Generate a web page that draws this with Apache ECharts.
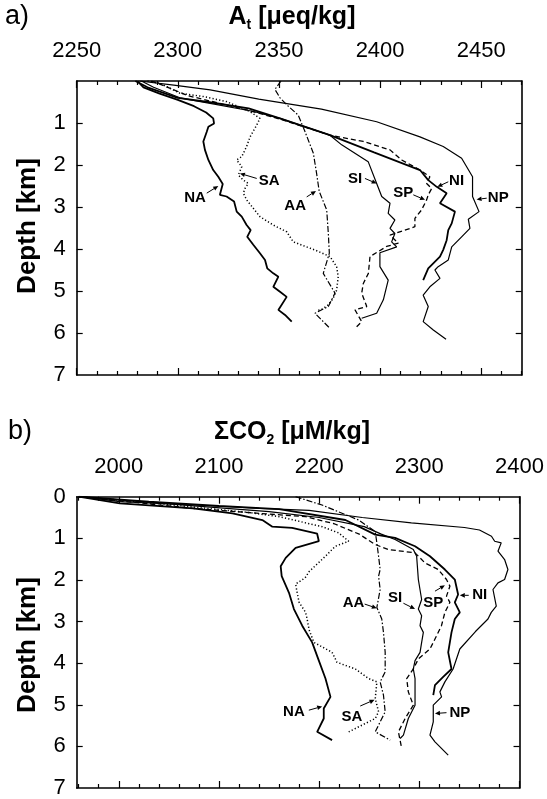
<!DOCTYPE html>
<html>
<head>
<meta charset="utf-8">
<script src="https://cdn.jsdelivr.net/npm/echarts@6/dist/echarts.min.js"></script>
<style>
html,body{margin:0;padding:0;background:#fff;}
#chart{width:547px;height:799px;}
</style>
</head>
<body>
<div id="chart"></div>
<script>
// ---------- tick labels ----------
const depthLabelsA = [1, 2, 3, 4, 5, 6, 7];
const depthLabelsB = [0, 1, 2, 3, 4, 5, 6, 7];
const atLabels = [2250, 2300, 2350, 2400, 2450];
const co2Labels = [2000, 2100, 2200, 2300, 2400];

// ---------- panel a: alkalinity [value, depth km] ----------
const atNA = [[2280,0],[2283,0.15],[2291,0.3],[2300,0.45],[2308,0.6],[2314,0.75],[2317.5,0.89],[2317.9,1.01],[2315.1,1.09],[2314.3,1.21],[2312.6,1.44],[2313.4,1.64],[2315.1,1.88],[2317.5,2.12],[2320,2.28],[2322.2,2.45],[2320.8,2.71],[2324.1,2.75],[2327.8,2.87],[2329.1,3.11],[2331.6,3.23],[2334,3.43],[2336,3.55],[2334.3,3.71],[2337.3,3.9],[2340.6,4.1],[2343.1,4.26],[2344.2,4.46],[2347.2,4.58],[2349.7,4.66],[2347.2,4.9],[2350.5,5.02],[2353.8,5.14],[2349.7,5.45],[2353,5.57],[2356.3,5.73]];
const atSA = [[2285,0],[2291,0.05],[2301,0.29],[2312.6,0.37],[2324.1,0.49],[2335.7,0.73],[2340.6,0.89],[2339,1.05],[2335.7,1.33],[2334,1.56],[2331.6,1.8],[2329.1,1.88],[2331.6,2.04],[2329.9,2.24],[2332.4,2.36],[2334.8,2.44],[2333.2,2.56],[2332.4,2.67],[2334,2.83],[2337.3,3.03],[2340.6,3.23],[2347.2,3.43],[2353.8,3.59],[2357.1,3.83],[2365.3,3.98],[2368.6,4.04],[2375.2,4.18],[2378.5,4.42],[2379.3,4.66],[2378.5,4.98],[2376.8,5.17],[2374.4,5.33],[2371.1,5.44],[2368.6,5.47]];
const atAA = [[2351,0],[2348,0.2],[2350.5,0.4],[2354.6,0.6],[2359.5,0.81],[2362.9,1.21],[2367,1.72],[2368.6,2.2],[2369.9,2.63],[2373.6,3.07],[2374.4,3.63],[2374.9,4.1],[2371.9,4.58],[2377.7,5.05],[2374.4,5.37],[2367.8,5.53],[2375.2,5.89]];
const atSI = [[2282,0],[2288,0.15],[2301,0.4],[2318,0.55],[2337,0.72],[2350.5,0.89],[2375.2,1.29],[2381,1.52],[2394.1,1.92],[2398.3,2.44],[2400.8,2.75],[2404.9,2.91],[2404,3.15],[2407.3,3.31],[2404.9,3.51],[2407.3,3.63],[2405.7,3.83],[2408.2,3.95],[2399.9,4.09],[2399.9,4.42],[2404,4.74],[2401.6,5.21],[2398.3,5.53],[2390.9,5.65]];
const atSP = [[2287,0],[2295,0.15],[2305,0.35],[2318,0.5],[2335,0.7],[2350,0.9],[2375.2,1.29],[2391.7,1.44],[2404.9,1.64],[2410.7,1.88],[2419.7,2.12],[2424.6,2.28],[2423,2.44],[2425.5,2.56],[2423.8,2.71],[2423,2.83],[2420.5,3.07],[2417.2,3.27],[2417.2,3.47],[2404.9,3.67],[2409,3.86],[2403.2,3.94],[2399.1,4.06],[2395,4.18],[2394.2,4.58],[2391.7,4.82],[2390.9,5.05],[2393.4,5.37],[2387.6,5.45],[2390.9,5.73],[2388.4,5.85]];
const atNI = [[2279,0],[2285,0.15],[2300,0.4],[2315,0.5],[2335,0.65],[2350.5,0.89],[2375.2,1.29],[2397,1.7],[2419.7,2.12],[2423.8,2.36],[2428,2.52],[2432.9,2.67],[2429.6,2.91],[2437,3.11],[2435.4,3.39],[2433.7,3.55],[2432.9,3.79],[2431.2,4.02],[2429.6,4.18],[2423.8,4.46],[2421.3,4.74]];
const atNP = [[2281,0],[2298,0.1],[2316,0.21],[2340,0.43],[2371,0.67],[2398.3,0.97],[2419.7,1.33],[2431.2,1.56],[2440.3,1.84],[2445.7,2.28],[2445.7,2.75],[2448.9,3.11],[2443.6,3.29],[2444.4,3.51],[2440.3,3.71],[2435.4,3.95],[2433.7,4.26],[2428.7,4.42],[2427.1,4.5],[2429.6,4.7],[2424.6,4.9],[2421.3,5.1],[2423.8,5.37],[2421.3,5.73],[2426.3,5.93],[2432.6,6.15]];

// ---------- panel b: total CO2 [value, depth km] ----------
const coNA = [[1960,0],[2001,0.16],[2074,0.28],[2113.5,0.4],[2143.3,0.56],[2153.3,0.72],[2173,0.75],[2198,0.89],[2199.7,1.07],[2176.5,1.23],[2166.6,1.47],[2161.6,1.67],[2162.6,1.91],[2169.9,2.31],[2174.8,2.7],[2183.1,3.1],[2193,3.5],[2199.7,3.94],[2206.3,4.37],[2211.3,4.81],[2204.6,5.09],[2204.6,5.33],[2198,5.65],[2212.9,5.85]];
const coSA = [[1960,0],[2020,0.12],[2075,0.25],[2130,0.38],[2160,0.48],[2203,0.72],[2219.5,0.87],[2229.5,1.07],[2216.2,1.19],[2206.3,1.43],[2190,1.8],[2186,1.95],[2176.5,2.1],[2178,2.3],[2180,2.54],[2186.5,2.78],[2188,2.94],[2190,3.2],[2194.7,3.5],[2212.9,3.74],[2217.8,3.98],[2236.1,4.14],[2249.3,4.37],[2257.6,4.45],[2256,4.85],[2259.3,5.17],[2256,5.33],[2242.7,5.49],[2229.5,5.65]];
const coAA = [[2176.5,0],[2202.9,0.2],[2239.4,0.56],[2256,0.84],[2257.6,1.11],[2259.3,1.43],[2260.9,1.75],[2259.3,1.91],[2260.9,2.23],[2257.6,2.66],[2262.5,2.94],[2264.2,3.26],[2265.9,3.74],[2265.9,4.21],[2260.9,4.45],[2264.2,4.77],[2265.9,5.17],[2260.9,5.41],[2256,5.65],[2270.9,5.85]];
const coSI = [[1960,0],[2075,0.22],[2150,0.36],[2200,0.5],[2245,0.72],[2262,0.9],[2275.8,1.03],[2294,1.27],[2297.3,1.43],[2299,1.99],[2302.3,2.47],[2299,2.7],[2302.3,2.86],[2300.7,3.1],[2304,3.26],[2302.3,3.5],[2300.7,3.74],[2295.7,3.94],[2294,4.14],[2295.7,4.37],[2295.7,5.01],[2289,5.33],[2284.1,5.73],[2280.8,5.81]];
const coSP = [[1960,0],[2074,0.28],[2140,0.4],[2186.5,0.48],[2215,0.65],[2240,0.9],[2256,1.15],[2269.2,1.27],[2295.7,1.35],[2305.6,1.59],[2318.9,1.75],[2327.1,1.99],[2330.5,2.15],[2327.1,2.39],[2330.5,2.54],[2325.5,2.78],[2322.1,3.1],[2315.6,3.42],[2310.6,3.66],[2299,3.9],[2294,4.14],[2287.4,4.37],[2289,4.69],[2294,5.01],[2285.8,5.33],[2279.1,5.65],[2282.4,6.05]];
const coNI = [[1960,0],[2030,0.12],[2100,0.22],[2160,0.3],[2226.2,0.56],[2256,0.91],[2275.8,0.99],[2295.7,1.19],[2310.6,1.43],[2325.5,1.75],[2335.4,1.99],[2338.7,2.35],[2335.4,2.54],[2340.4,2.78],[2335.4,2.94],[2332.1,3.26],[2328.8,3.74],[2332.1,4.14],[2323.8,4.33],[2315.6,4.53],[2313.9,4.77]];
const coNP = [[1962,0],[2001,0.12],[2074,0.2],[2140,0.28],[2190,0.33],[2243,0.5],[2292,0.63],[2345,0.74],[2360,0.8],[2372,0.95],[2375.2,1.07],[2381.7,1.11],[2378.5,1.31],[2385.1,1.51],[2388.4,1.75],[2385.1,1.99],[2378.5,2.07],[2373.5,2.23],[2376.8,2.63],[2371.8,2.78],[2368.5,2.94],[2356,3.24],[2340.4,3.66],[2333.7,4.14],[2325.5,4.45],[2320.5,4.69],[2322.2,4.81],[2313.9,5.01],[2313.9,5.41],[2310.6,5.73],[2315.6,5.89],[2328.8,6.21]];

// ---------- annotations (data coords: label, arrow tail, arrow head) ----------
const annA = [
  ['NA', [2308.5,2.79], [2314.3,2.67], [2320,2.5]],
  ['SA', [2345.2,2.38], [2339,2.32], [2330.7,2.2]],
  ['AA', [2358,2.98], [2363.7,2.76], [2368.3,2.62]],
  ['SI', [2387.6,2.32], [2392.5,2.32], [2398.3,2.44]],
  ['SP', [2411.5,2.67], [2416.4,2.71], [2422.2,2.83]],
  ['NI', [2437.8,2.37], [2433.7,2.40], [2428.3,2.52]],
  ['NP', [2458.4,2.79], [2452.7,2.79], [2447.7,2.82]]
];
const annB = [
  ['NA', [2174.8,5.17], [2189.7,5.13], [2203,5.04]],
  ['SA', [2232.7,5.29], [2241,5.03], [2255.3,4.88]],
  ['AA', [2234.4,2.56], [2245.4,2.58], [2257.6,2.68]],
  ['SI', [2275.8,2.42], [2284.1,2.56], [2295.7,2.70]],
  ['SP', [2313.9,2.54], [2315.6,2.27], [2325.5,2.13]],
  ['NI', [2360.3,2.35], [2349.3,2.37], [2340.4,2.37]],
  ['NP', [2340.4,5.19], [2327.1,5.19], [2315.6,5.21]]
];

const FONT = '"Liberation Sans", Arial, sans-serif';
function range(a, b, s) { const r = []; for (let v = a; v <= b + 1e-9; v += s) r.push(v); return r; }
const plain = function (v) { return String(v); };

function xAxesFor(grid, min, max, majors, minors, labels) {
  const line = {show: true, onZero: false, lineStyle: {color: '#000', width: 1.6}};
  const tickStyle = {color: '#000', width: 1.2};
  const base = {gridIndex: grid, type: 'value', min: min, max: max, splitLine: {show: false}};
  return [
    Object.assign({}, base, {position: 'top', axisLine: line,
      axisTick: {show: true, inside: true, length: 7, customValues: majors, lineStyle: tickStyle},
      axisLabel: {show: true, customValues: labels, formatter: plain, fontSize: 22, color: '#000', margin: 19, fontFamily: FONT}}),
    Object.assign({}, base, {position: 'top', axisLine: {show: false, onZero: false},
      axisTick: {show: true, inside: true, length: 4, customValues: minors, lineStyle: tickStyle},
      axisLabel: {show: false}}),
    Object.assign({}, base, {position: 'bottom', axisLine: line,
      axisTick: {show: true, inside: true, length: 7, customValues: majors, lineStyle: tickStyle},
      axisLabel: {show: false}}),
    Object.assign({}, base, {position: 'bottom', axisLine: {show: false, onZero: false},
      axisTick: {show: true, inside: true, length: 4, customValues: minors, lineStyle: tickStyle},
      axisLabel: {show: false}})
  ];
}
function yAxesFor(grid, labels) {
  const line = {show: true, onZero: false, lineStyle: {color: '#000', width: 1.6}};
  const tick = {show: true, inside: true, length: 6, customValues: [1,2,3,4,5,6], lineStyle: {color: '#000', width: 1.2}};
  const base = {gridIndex: grid, type: 'value', min: 0, max: 7, inverse: true, splitLine: {show: false}};
  return [
    Object.assign({}, base, {position: 'left', axisLine: line, axisTick: tick,
      axisLabel: {show: true, customValues: labels, formatter: plain, fontSize: 22, color: '#000', margin: 11, fontFamily: FONT}}),
    Object.assign({}, base, {position: 'right', axisLine: line, axisTick: tick, axisLabel: {show: false}})
  ];
}

const majorsA = range(2250, 2450, 50);
const minorsA = range(2260, 2470, 10).filter(v => v % 50 !== 0);
const majorsB = range(2000, 2400, 100);
const minorsB = range(1960, 2400, 20).filter(v => v % 100 !== 0);

const styles = {
  NA: {width: 1.8, type: 'solid'},
  SA: {width: 1.5, type: [1.2, 2.2]},
  AA: {width: 1.2, type: [6, 2, 1.5, 2]},
  SI: {width: 1.2, type: 'solid'},
  SP: {width: 1.3, type: [5, 3]},
  NI: {width: 1.8, type: 'solid'},
  NP: {width: 1.2, type: 'solid'}
};
function mk(name, data, xi, yi) {
  const s = styles[name];
  return {type: 'line', name: name, data: data, xAxisIndex: xi, yAxisIndex: yi, showSymbol: false, symbol: 'none',
    silent: true, animation: false, lineStyle: {color: '#000', width: s.width, type: s.type, cap: 'butt'}};
}

const chart = echarts.init(document.getElementById('chart'), null, {renderer: 'canvas'});
const option = {
  animation: false,
  backgroundColor: '#fff',
  textStyle: {fontFamily: FONT},
  grid: [
    {left: 76.7, top: 81, width: 445, height: 294},
    {left: 76.7, top: 496.7, width: 445, height: 293.3}
  ],
  xAxis: xAxesFor(0, 2250, 2470, majorsA, minorsA, atLabels).concat(xAxesFor(1, 1958, 2400, majorsB, minorsB, co2Labels)),
  yAxis: yAxesFor(0, depthLabelsA).concat(yAxesFor(1, depthLabelsB)),
  series: [
    mk('NA', atNA, 0, 0), mk('SA', atSA, 0, 0), mk('AA', atAA, 0, 0), mk('SI', atSI, 0, 0),
    mk('SP', atSP, 0, 0), mk('NI', atNI, 0, 0), mk('NP', atNP, 0, 0),
    mk('NA', coNA, 4, 2), mk('SA', coSA, 4, 2), mk('AA', coAA, 4, 2), mk('SI', coSI, 4, 2),
    mk('SP', coSP, 4, 2), mk('NI', coNI, 4, 2), mk('NP', coNP, 4, 2)
  ]
};
chart.setOption(option);

// ---------- text decorations ----------
const ctx = document.createElement('canvas').getContext('2d');
function tw(text, font) { ctx.font = font; return ctx.measureText(text).width; }

function subTitle(cx, cy, main, sub, rest) {
  const fb = 'bold 25px ' + FONT, fs = 'bold 14px ' + FONT;
  const w1 = tw(main, fb), w2 = tw(sub, fs), w3 = tw(rest, fb);
  const x0 = cx - (w1 + w2 + w3) / 2;
  return [
    {type: 'text', x: x0, y: cy, style: {text: main, font: fb, fill: '#000', align: 'left', verticalAlign: 'middle'}},
    {type: 'text', x: x0 + w1, y: cy + 8, style: {text: sub, font: fs, fill: '#000', align: 'left', verticalAlign: 'middle'}},
    {type: 'text', x: x0 + w1 + w2, y: cy, style: {text: rest, font: fb, fill: '#000', align: 'left', verticalAlign: 'middle'}}
  ];
}
function annotations(gridIndex, list) {
  const els = [];
  list.forEach(function (a) {
    const t = chart.convertToPixel({gridIndex: gridIndex}, a[1]);
    const p0 = chart.convertToPixel({gridIndex: gridIndex}, a[2]);
    const p1 = chart.convertToPixel({gridIndex: gridIndex}, a[3]);
    els.push({type: 'text', x: t[0], y: t[1], style: {text: a[0], font: 'bold 15px ' + FONT, fill: '#000', align: 'center', verticalAlign: 'middle'}});
    const dx = p1[0] - p0[0], dy = p1[1] - p0[1], L = Math.hypot(dx, dy) || 1, ux = dx / L, uy = dy / L;
    const hl = 5, hw = 2.3;
    const bx = p1[0] - ux * hl, by = p1[1] - uy * hl;
    els.push({type: 'line', shape: {x1: p0[0], y1: p0[1], x2: bx, y2: by}, style: {stroke: '#000', lineWidth: 1}});
    els.push({type: 'polygon', shape: {points: [[p1[0], p1[1]], [bx - uy * hw, by + ux * hw], [bx + uy * hw, by - ux * hw]]}, style: {fill: '#000'}});
  });
  return els;
}

const graphics = []
  .concat([
    {type: 'text', x: 5, y: 17, style: {text: 'a)', font: '27px ' + FONT, fill: '#000', align: 'left', verticalAlign: 'middle'}},
    {type: 'text', x: 8, y: 432, style: {text: 'b)', font: '27px ' + FONT, fill: '#000', align: 'left', verticalAlign: 'middle'}},
    {type: 'text', x: 27.5, y: 226, rotation: Math.PI / 2, style: {text: 'Depth [km]', font: 'bold 26px ' + FONT, fill: '#000', align: 'center', verticalAlign: 'middle'}},
    {type: 'text', x: 27.5, y: 645, rotation: Math.PI / 2, style: {text: 'Depth [km]', font: 'bold 26px ' + FONT, fill: '#000', align: 'center', verticalAlign: 'middle'}}
  ])
  .concat(subTitle(292, 17, 'A', 't', ' [μeq/kg]'))
  .concat(subTitle(292, 432, 'ΣCO', '2', ' [μM/kg]'))
  .concat(annotations(0, annA))
  .concat(annotations(1, annB));

chart.setOption({graphic: {elements: graphics}});
</script>
</body>
</html>
